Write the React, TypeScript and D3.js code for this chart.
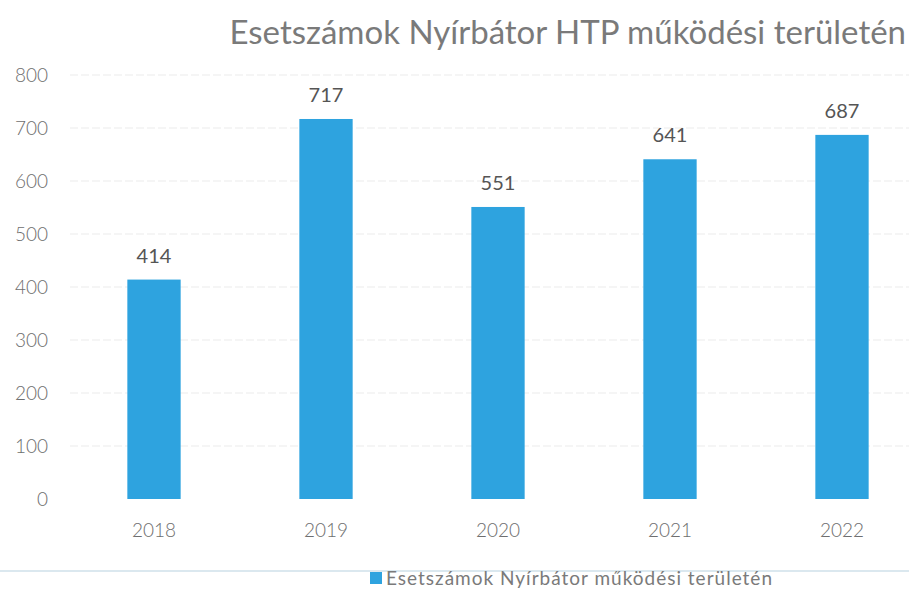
import React from 'react';
import * as d3 from 'd3';

const years = ['2018', '2019', '2020', '2021', '2022'];
const cases = [414, 717, 551, 641, 687];
const yTicks = [0, 100, 200, 300, 400, 500, 600, 700, 800];
const title = 'Esetszámok Nyírbátor HTP működési területén';
const seriesName = 'Esetszámok Nyírbátor működési területén';

const W = 909;
const H = 592;
const FONT = 'Lato, "Open Sans", sans-serif';

export default function App() {
  // plot area
  const x = d3.scaleBand<string>().domain(years).range([68, 928]).paddingInner(0.69).paddingOuter(0.345);
  const y = d3.scaleLinear().domain([0, 800]).range([499, 75]);
  const barColor = '#2ea3df';

  return (
    <svg width={W} height={H} style={{ position: 'absolute', left: 0, top: 0, background: '#fff' }}>
      <text x={906} y={44} textAnchor="end" fontFamily={FONT} fontSize={33} fill="#7a7a7a">
        {title}
      </text>

      {/* gridlines + y axis labels */}
      {yTicks.map(t => (
        <g key={t}>
          {t > 0 && (
            <line x1={70} x2={W} y1={y(t)} y2={y(t)} stroke="#ebebeb" strokeWidth={1} strokeDasharray="8 3" />
          )}
          <text x={48} y={y(t)} dy="0.35em" textAnchor="end" fontFamily={FONT} fontSize={19} fill="#6e6e6e" fontWeight={300}>
            {t}
          </text>
        </g>
      ))}

      {/* bars */}
      {years.map((yr, i) => (
        <g key={yr}>
          <rect x={x(yr)} y={y(cases[i])} width={x.bandwidth()} height={y(0) - y(cases[i])} fill={barColor} />
          <text x={(x(yr) ?? 0) + x.bandwidth() / 2} y={y(cases[i]) - 17} textAnchor="middle"
            fontFamily={FONT} fontSize={20} fill="#555">
            {cases[i]}
          </text>
          <text x={(x(yr) ?? 0) + x.bandwidth() / 2} y={537} textAnchor="middle"
            fontFamily={FONT} fontSize={19} fill="#6e6e6e" fontWeight={300}>
            {yr}
          </text>
        </g>
      ))}

      {/* legend */}
      <line x1={0} x2={W} y1={571} y2={571} stroke="#cfe0ea" strokeWidth={1.5} />
      <rect x={370} y={572} width={12} height={12} fill={barColor} />
      <text x={386} y={585} fontFamily={FONT} fontSize={19} letterSpacing={1} fill="#7a7a7a">
        {seriesName}
      </text>
    </svg>
  );
}
